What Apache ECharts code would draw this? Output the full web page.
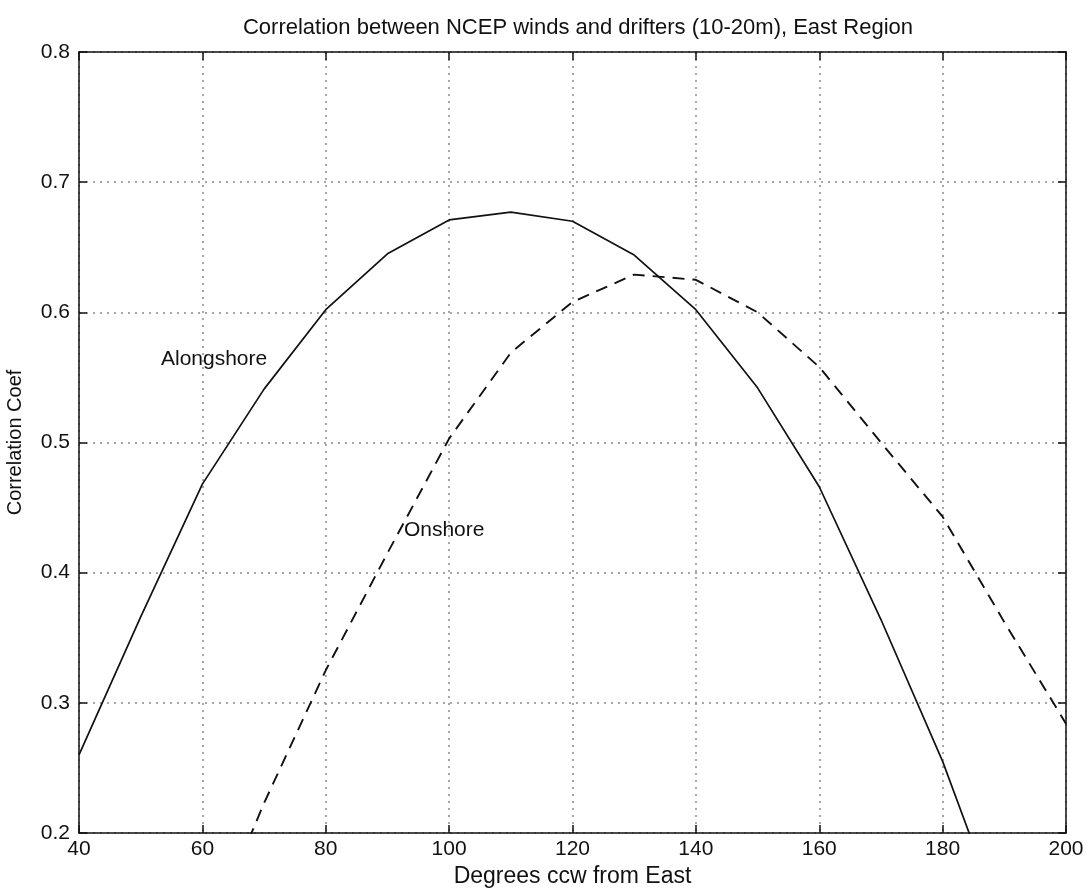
<!DOCTYPE html>
<html>
<head>
<meta charset="utf-8">
<style>
  html, body { margin: 0; padding: 0; background: #fff; }
  #chart { width: 1086px; height: 888px; }
</style>
<script src="https://cdn.jsdelivr.net/npm/echarts@6/dist/echarts.min.js"></script>
</head>
<body>
<div id="chart"></div>
<script>
// degrees ccw from East, every 10 deg
const alongDeg = [40, 50, 60, 70, 80, 90, 100, 110, 120, 130, 140, 150, 160, 170, 180, 190];
const alongVals = [0.260, 0.366, 0.468, 0.541, 0.602, 0.645, 0.671, 0.677, 0.670, 0.644, 0.602, 0.542, 0.466, 0.364, 0.255, 0.127];

const onDeg = [60, 70, 80, 90, 100, 110, 120, 130, 140, 150, 160, 170, 180, 190, 200];
const onVals = [0.11, 0.223, 0.325, 0.415, 0.503, 0.569, 0.608, 0.629, 0.625, 0.600, 0.558, 0.500, 0.443, 0.362, 0.284];

// text annotations, in data units
const labelText = ["Alongshore", "Onshore"];
const labelDeg = [61.9, 99.2];
const labelVal = [0.564, 0.433];

const xTicks = [40, 200, 20];
const yTicks = [0.2, 0.8, 0.1];

const font = "Liberation Sans";
const ink = "#111";

const chart = echarts.init(document.getElementById("chart"));

const boxAxis = {
  axisLine: { show: true, onZero: false, lineStyle: { color: ink, width: 1.5 } },
  axisTick: { show: true, inside: true, length: 8, lineStyle: { color: ink, width: 1.5 } },
  axisLabel: { show: false },
  splitLine: { show: false },
};

const option = {
  animation: false,
  backgroundColor: "#fff",
  title: {
    text: "Correlation between NCEP winds and drifters (10-20m), East Region",
    left: 573,
    top: 12,
    textAlign: "center",
    textStyle: { fontFamily: font, fontSize: 22, fontWeight: "normal", color: ink },
  },
  grid: { left: 79, right: 20, top: 52, bottom: 55, outerBoundsMode: "none", containLabel: false },
  xAxis: [
    {
      type: "value",
      min: xTicks[0],
      max: xTicks[1],
      interval: xTicks[2],
      name: "Degrees ccw from East",
      nameLocation: "middle",
      nameGap: 31,
      nameTextStyle: { fontFamily: font, fontSize: 23, color: ink },
      axisLine: { show: true, onZero: false, lineStyle: { color: ink, width: 1.5 } },
      axisTick: { show: true, inside: true, length: 8, lineStyle: { color: ink, width: 1.5 } },
      axisLabel: { fontFamily: font, fontSize: 21, color: ink, margin: 6 },
      splitLine: { show: true, lineStyle: { type: [2, 5], color: "#8a8a8a", width: 1.5 } },
    },
    Object.assign({ type: "value", position: "top", min: xTicks[0], max: xTicks[1], interval: xTicks[2] }, boxAxis),
  ],
  yAxis: [
    {
      type: "value",
      min: yTicks[0],
      max: yTicks[1],
      interval: yTicks[2],
      name: "Correlation Coef",
      nameLocation: "middle",
      nameGap: 54,
      nameTextStyle: { fontFamily: font, fontSize: 20, color: ink },
      axisLine: { show: true, onZero: false, lineStyle: { color: ink, width: 1.5 } },
      axisTick: { show: true, inside: true, length: 8, lineStyle: { color: ink, width: 1.5 } },
      axisLabel: {
        fontFamily: font, fontSize: 21, color: ink, margin: 9,
        formatter: (v) => v.toFixed(1),
      },
      splitLine: { show: true, lineStyle: { type: [2, 5], color: "#8a8a8a", width: 1.5 } },
    },
    Object.assign({ type: "value", position: "right", min: yTicks[0], max: yTicks[1], interval: yTicks[2] }, boxAxis),
  ],
  series: [
    {
      name: "Alongshore",
      type: "line",
      symbol: "none",
      clip: true,
      lineStyle: { color: ink, width: 1.7 },
      data: alongDeg.map((d, i) => [d, alongVals[i]]),
    },
    {
      name: "Onshore",
      type: "line",
      symbol: "none",
      clip: true,
      lineStyle: { color: ink, width: 1.9, type: [12, 8] },
      data: onDeg.map((d, i) => [d, onVals[i]]),
    },
    {
      name: "labels",
      type: "scatter",
      symbolSize: 1,
      itemStyle: { color: "rgba(0,0,0,0)", opacity: 1 },
      label: {
        show: true,
        position: "inside",
        formatter: (p) => p.value[2],
        fontFamily: font,
        fontSize: 21,
        color: ink,
        opacity: 1,
        textBorderWidth: 0,
      },
      emphasis: { disabled: true },
      data: labelText.map((t, i) => [labelDeg[i], labelVal[i], t]),
    },
  ],
};

chart.setOption(option);
</script>
</body>
</html>
